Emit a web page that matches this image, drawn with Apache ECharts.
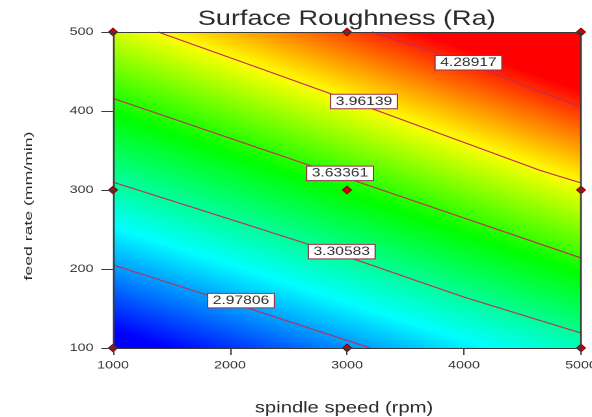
<!DOCTYPE html>
<html><head><meta charset="utf-8">
<script src="https://cdn.jsdelivr.net/npm/echarts@6/dist/echarts.min.js"></script>
<style>
html,body{margin:0;padding:0;background:#fff;overflow:hidden;width:592px;height:417px}
#wrap{width:592px;height:417px;overflow:hidden;position:relative}
#chart{width:455px;height:417px;transform:scaleX(1.301099);transform-origin:0 0;position:absolute;left:0;top:0}
</style></head><body><div id="wrap"><div id="chart"></div></div>
<script>
// ---- data ----
const speedTicks = [1000, 2000, 3000, 4000, 5000];
const feedTicks = [100, 200, 300, 400, 500];
const levels = [2.97806, 3.30583, 3.63361, 3.96139, 4.28917];
const contour1 = [[1000, 205], [2100, 153], [3200, 100]];
const contour2 = [[1000, 310], [2950, 218], [3970, 166], [5000, 119]];
const contour3 = [[1000, 416], [3000, 315], [5000, 214]];
const contour4 = [[1385, 500], [3140, 407], [4630, 326], [5000, 309]];
const contour5 = [[3214, 500], [4040, 459], [5000, 405]];
const labelPoints = [[2094, 160], [2955, 222], [2940, 321], [3145, 412], [4038, 461]];
const designPoints = [[1000, 100], [3000, 100], [5000, 100], [1000, 300], [3000, 300], [5000, 300], [1000, 500], [3000, 500], [5000, 500]];

const contours = [contour1, contour2, contour3, contour4, contour5];
const labelTexts = levels.map(v => v.toFixed(5));

// ---- colour scale (blue -> cyan -> green -> yellow -> red) ----
const colorKnots = [2.72, 3.13, 3.57, 3.96, 4.36];
const colorRGB = [[0, 0, 255], [0, 255, 255], [0, 255, 0], [255, 255, 0], [255, 0, 0]];
function colorAt(v) {
  if (v <= colorKnots[0]) return 'rgb(' + colorRGB[0].join(',') + ')';
  const last = colorKnots.length - 1;
  if (v >= colorKnots[last]) return 'rgb(' + colorRGB[last].join(',') + ')';
  for (let i = 0; i < last; i++) {
    if (v >= colorKnots[i] && v <= colorKnots[i + 1]) {
      const t = (v - colorKnots[i]) / (colorKnots[i + 1] - colorKnots[i]);
      const c = colorRGB[i].map((a, j) => Math.round(a + (colorRGB[i + 1][j] - a) * t));
      return 'rgb(' + c.join(',') + ')';
    }
  }
}
function stopsBetween(a, b) {
  const stops = [{ offset: 0, color: colorAt(a) }];
  const lo = Math.min(a, b), hi = Math.max(a, b);
  colorKnots.forEach(k => { if (k > lo && k < hi) stops.push({ offset: (k - a) / (b - a), color: colorAt(k) }); });
  stops.push({ offset: 1, color: colorAt(b) });
  stops.sort((p, q) => p.offset - q.offset);
  return stops;
}

// ---- geometry helpers ----
function unit(dx, dy) { const l = Math.hypot(dx, dy) || 1; return [dx / l, dy / l]; }
function mid(c) { const a = c[0], b = c[c.length - 1]; return [(a[0] + b[0]) / 2, (a[1] + b[1]) / 2]; }
function proj(m, c) {
  const a = c[0], b = c[c.length - 1];
  const dx = b[0] - a[0], dy = b[1] - a[1];
  const t = ((m[0] - a[0]) * dx + (m[1] - a[1]) * dy) / (dx * dx + dy * dy);
  return [a[0] + t * dx, a[1] + t * dy];
}
function ext(c) {
  const L = 900;
  const a = c[0], b = c[1], y = c[c.length - 2], z = c[c.length - 1];
  const u0 = unit(a[0] - b[0], a[1] - b[1]);
  const u1 = unit(z[0] - y[0], z[1] - y[1]);
  return [[a[0] + u0[0] * L, a[1] + u0[1] * L]].concat(c, [[z[0] + u1[0] * L, z[1] + u1[1] * L]]);
}
function clipPoly(pts, r) {
  const edges = [
    [p => p[0] >= r.x0, (a, b) => { const t = (r.x0 - a[0]) / (b[0] - a[0]); return [r.x0, a[1] + t * (b[1] - a[1])]; }],
    [p => p[0] <= r.x1, (a, b) => { const t = (r.x1 - a[0]) / (b[0] - a[0]); return [r.x1, a[1] + t * (b[1] - a[1])]; }],
    [p => p[1] >= r.y0, (a, b) => { const t = (r.y0 - a[1]) / (b[1] - a[1]); return [a[0] + t * (b[0] - a[0]), r.y0]; }],
    [p => p[1] <= r.y1, (a, b) => { const t = (r.y1 - a[1]) / (b[1] - a[1]); return [a[0] + t * (b[0] - a[0]), r.y1]; }]
  ];
  let out = pts;
  for (const [inside, inter] of edges) {
    const inp = out; out = [];
    if (!inp.length) break;
    for (let i = 0; i < inp.length; i++) {
      const cur = inp[i], prev = inp[(i + inp.length - 1) % inp.length];
      const ci = inside(cur), pi = inside(prev);
      if (ci) { if (!pi) out.push(inter(prev, cur)); out.push(cur); }
      else if (pi) out.push(inter(prev, cur));
    }
  }
  return out;
}
function grad(m, p, a, b) {
  return new echarts.graphic.LinearGradient(m[0], m[1], p[0], p[1], stopsBetween(a, b), true);
}

function renderField(params, api) {
  const cs = params.coordSys;
  const r = { x0: cs.x, y0: cs.y, x1: cs.x + cs.width, y1: cs.y + cs.height };
  const px = contours.map(c => c.map(p => api.coord(p)));
  const n = px.length;
  const children = [];
  function addPoly(pts, fill) {
    const cp = clipPoly(pts, r);
    if (cp.length > 2) children.push({ type: 'polygon', shape: { points: cp }, style: { fill: fill, stroke: null } });
  }
  {
    const M = mid(px[0]), P = proj(M, px[1]);
    const away = [M[0] - P[0], M[1] - P[1]];
    const u = unit(away[0], away[1]);
    const e = ext(px[0]);
    const f = [u[0] * 3000, u[1] * 3000];
    const pts = e.concat([[e[e.length - 1][0] + f[0], e[e.length - 1][1] + f[1]], [e[0][0] + f[0], e[0][1] + f[1]]]);
    addPoly(pts, grad(M, [M[0] + away[0], M[1] + away[1]], levels[0], levels[0] - (levels[1] - levels[0])));
  }
  for (let k = 1; k < n; k++) {
    const A = px[k - 1], B = px[k];
    const M = mid(A), P = proj(M, B);
    const pts = ext(A).concat(ext(B).reverse());
    addPoly(pts, grad(M, P, levels[k - 1], levels[k]));
  }
  {
    const M = mid(px[n - 1]), P = proj(M, px[n - 2]);
    const away = [M[0] - P[0], M[1] - P[1]];
    const u = unit(away[0], away[1]);
    const e = ext(px[n - 1]);
    const f = [u[0] * 3000, u[1] * 3000];
    const pts = e.concat([[e[e.length - 1][0] + f[0], e[e.length - 1][1] + f[1]], [e[0][0] + f[0], e[0][1] + f[1]]]);
    addPoly(pts, grad(M, [M[0] + away[0], M[1] + away[1]], levels[n - 1], levels[n - 1] + (levels[n - 1] - levels[n - 2])));
  }
  return { type: 'group', children: children };
}

const FONT = "'Liberation Sans', Arial, Helvetica, sans-serif";
const chart = echarts.init(document.getElementById('chart'), null, { renderer: 'canvas', devicePixelRatio: 2 });

const axisCommon = { type: 'value', splitLine: { show: false }, z: 10 };
const plainNum = v => String(v);

const option = {
  animation: false,
  backgroundColor: '#ffffff',
  grid: { left: 86.85, right: 8.45, top: 32, bottom: 69, containLabel: false, outerBoundsMode: 'none' },
  xAxis: [
    Object.assign({}, axisCommon, {
      min: speedTicks[0], max: speedTicks[speedTicks.length - 1], interval: 1000, position: 'bottom',
      axisLine: { show: true, lineStyle: { color: '#3a3a3a', width: 1 } },
      axisTick: { show: true, length: 7, lineStyle: { color: '#3a3a3a', width: 1 } },
      axisLabel: { show: true, fontSize: 11, color: '#333', fontFamily: FONT, margin: 12, formatter: plainNum }
    }),
    Object.assign({}, axisCommon, {
      min: speedTicks[0], max: speedTicks[speedTicks.length - 1], interval: 1000, position: 'top',
      axisLine: { show: true, lineStyle: { color: '#3a3a3a', width: 1 } },
      axisTick: { show: false }, axisLabel: { show: false }
    })
  ],
  yAxis: [
    Object.assign({}, axisCommon, {
      min: feedTicks[0], max: feedTicks[feedTicks.length - 1], interval: 100, position: 'left',
      axisLine: { show: true, lineStyle: { color: '#3a3a3a', width: 1.3 } },
      axisTick: { show: true, length: 9, lineStyle: { color: '#3a3a3a', width: 1 } },
      axisLabel: { show: true, fontSize: 11, color: '#333', fontFamily: FONT, margin: 15, formatter: plainNum }
    }),
    Object.assign({}, axisCommon, {
      min: feedTicks[0], max: feedTicks[feedTicks.length - 1], interval: 100, position: 'right',
      axisLine: { show: true, lineStyle: { color: '#3a3a3a', width: 1.3 } },
      axisTick: { show: false }, axisLabel: { show: false }
    })
  ],
  graphic: [
    { type: 'text', x: 266.5, y: 19.5, z: 20,
      style: { text: 'Surface Roughness (Ra)', fontSize: 20.8, fontFamily: FONT, fill: '#2b2b2b', textAlign: 'center', textVerticalAlign: 'middle', align: 'center', verticalAlign: 'middle' } },
    { type: 'text', x: 264.4, y: 408, z: 20,
      style: { text: 'spindle speed (rpm)', fontSize: 15.5, fontFamily: FONT, fill: '#2b2b2b', textAlign: 'center', textVerticalAlign: 'middle', align: 'center', verticalAlign: 'middle' } },
    { type: 'text', x: 22.3, y: 206, z: 20, rotation: Math.PI / 2, scaleX: 1.47, scaleY: 0.7,
      style: { text: 'feed rate (mm/min)', fontSize: 12, fontFamily: FONT, fill: '#2b2b2b', textAlign: 'center', textVerticalAlign: 'middle', align: 'center', verticalAlign: 'middle' } }
  ],
  series: [
    {
      type: 'custom', name: 'field', coordinateSystem: 'cartesian2d', xAxisIndex: 0, yAxisIndex: 0,
      data: [[3000, 300]], renderItem: renderField, silent: true, z: 1, clip: true
    }
  ].concat(contours.map((c, i) => ({
    type: 'line', name: 'contour ' + labelTexts[i], data: c, xAxisIndex: 0, yAxisIndex: 0,
    showSymbol: false, symbol: 'none', silent: true, z: 3, smooth: 0.15,
    lineStyle: { color: '#c42a5a', width: 1.1 }
  }))).concat([
    {
      type: 'scatter', name: 'design points', data: designPoints, xAxisIndex: 0, yAxisIndex: 0,
      symbol: 'diamond', symbolSize: [7, 8], silent: true, z: 6, clip: false,
      itemStyle: { color: '#d40000', borderColor: '#6a0000', borderWidth: 0.7, opacity: 1 }
    },
    {
      type: 'scatter', name: 'labels', data: labelPoints, xAxisIndex: 0, yAxisIndex: 0,
      symbol: 'circle', symbolSize: 0, silent: true, z: 7,
      itemStyle: { color: 'transparent', opacity: 1 },
      label: {
        show: true, position: 'inside', opacity: 1,
        formatter: p => labelTexts[p.dataIndex],
        color: '#333', fontSize: 12, fontFamily: FONT, lineHeight: 12,
        backgroundColor: '#ffffff', borderColor: '#9c3048', borderWidth: 1,
        padding: [1, 3.5, 0.5, 3.5]
      }
    }
  ])
};
chart.setOption(option);
</script>
</body></html>
